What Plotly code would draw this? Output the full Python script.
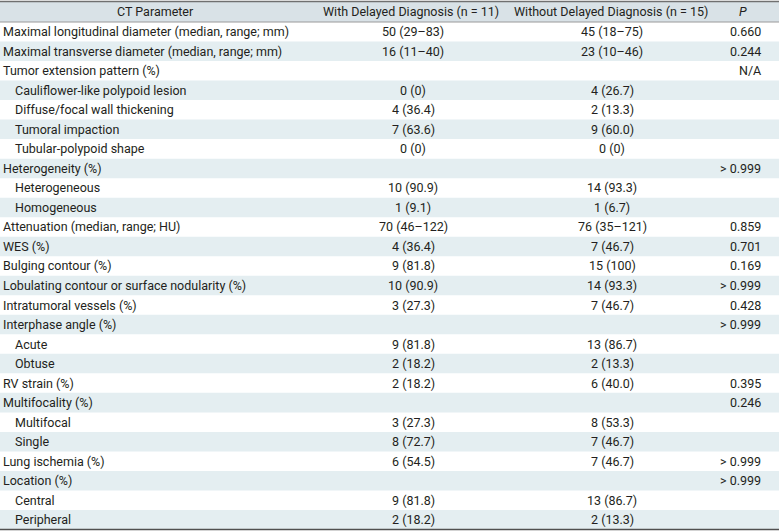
import plotly.graph_objects as go

# ---------------- data ----------------
header_labels = [
    "CT Parameter",
    "With Delayed Diagnosis (n = 11)",
    "Without Delayed Diagnosis (n = 15)",
    "<i>P</i>",
]

parameters = [
    "Maximal longitudinal diameter (median, range; mm)",
    "Maximal transverse diameter (median, range; mm)",
    "Tumor extension pattern (%)",
    "Cauliflower-like polypoid lesion",
    "Diffuse/focal wall thickening",
    "Tumoral impaction",
    "Tubular-polypoid shape",
    "Heterogeneity (%)",
    "Heterogeneous",
    "Homogeneous",
    "Attenuation (median, range; HU)",
    "WES (%)",
    "Bulging contour (%)",
    "Lobulating contour or surface nodularity (%)",
    "Intratumoral vessels (%)",
    "Interphase angle (%)",
    "Acute",
    "Obtuse",
    "RV strain (%)",
    "Multifocality (%)",
    "Multifocal",
    "Single",
    "Lung ischemia (%)",
    "Location (%)",
    "Central",
    "Peripheral",
]

sub_item = [
    False, False, False, True, True, True, True,
    False, True, True,
    False, False, False, False, False,
    False, True, True,
    False, False, True, True,
    False, False, True, True,
]

with_delayed = [
    "50 (29–83)", "16 (11–40)", "", "0 (0)", "4 (36.4)", "7 (63.6)", "0 (0)",
    "", "10 (90.9)", "1 (9.1)",
    "70 (46–122)", "4 (36.4)", "9 (81.8)", "10 (90.9)", "3 (27.3)",
    "", "9 (81.8)", "2 (18.2)",
    "2 (18.2)", "", "3 (27.3)", "8 (72.7)",
    "6 (54.5)", "", "9 (81.8)", "2 (18.2)",
]

without_delayed = [
    "45 (18–75)", "23 (10–46)", "", "4 (26.7)", "2 (13.3)", "9 (60.0)", "0 (0)",
    "", "14 (93.3)", "1 (6.7)",
    "76 (35–121)", "7 (46.7)", "15 (100)", "14 (93.3)", "7 (46.7)",
    "", "13 (86.7)", "2 (13.3)",
    "6 (40.0)", "", "8 (53.3)", "7 (46.7)",
    "7 (46.7)", "", "13 (86.7)", "2 (13.3)",
]

p_values = [
    "0.660", "0.244", "N/A", "", "", "", "",
    "> 0.999", "", "",
    "0.859", "0.701", "0.169", "> 0.999", "0.428",
    "> 0.999", "", "",
    "0.395", "0.246", "", "",
    "> 0.999", "> 0.999", "", "",
]

# ---------------- layout constants ----------------
W, H = 779, 532
TABLE_TOP = 1.5
HEADER_BOTTOM = 22
TABLE_BOTTOM = 529.5
n_rows = len(parameters)
row_h = (TABLE_BOTTOM - HEADER_BOTTOM) / n_rows

X_MAIN = 1
X_SUB = 13
X_COL1_HDR = 155
X_COL2_HDR = 411
X_COL2 = 413
X_COL3_HDR = 611
X_COL3 = 612
X_P_HDR = 743
X_P_RIGHT = 763

FONT = dict(family="Roboto", size=12.5, color="#231f20")
HEADER_FILL = "#d9e2e7"
STRIPE_FILL = "#e4eef1"

fig = go.Figure()
fig.add_trace(go.Scatter(x=[0, W], y=[0, H], mode="markers",
                         marker=dict(opacity=0), hoverinfo="skip",
                         showlegend=False))

shapes = [dict(type="rect", xref="x", yref="y", x0=0, x1=W,
               y0=TABLE_TOP, y1=HEADER_BOTTOM, fillcolor=HEADER_FILL,
               line=dict(width=0), layer="below")]
for i in range(n_rows):
    if i % 2 == 1:
        y0 = HEADER_BOTTOM + i * row_h
        shapes.append(dict(type="rect", xref="x", yref="y", x0=0, x1=W,
                           y0=y0, y1=y0 + row_h, fillcolor=STRIPE_FILL,
                           line=dict(width=0), layer="below"))
shapes.append(dict(type="line", xref="x", yref="y", x0=0, x1=W,
                   y0=TABLE_TOP, y1=TABLE_TOP,
                   line=dict(color="#707070", width=1.5)))
shapes.append(dict(type="line", xref="x", yref="y", x0=0, x1=W,
                   y0=HEADER_BOTTOM, y1=HEADER_BOTTOM,
                   line=dict(color="#9a9a9a", width=1)))
shapes.append(dict(type="line", xref="x", yref="y", x0=0, x1=W,
                   y0=TABLE_BOTTOM, y1=TABLE_BOTTOM,
                   line=dict(color="#505050", width=1.5)))

annotations = []
hy = (TABLE_TOP + HEADER_BOTTOM) / 2
for label, x in zip(header_labels,
                    [X_COL1_HDR, X_COL2_HDR, X_COL3_HDR, X_P_HDR]):
    annotations.append(dict(x=x, y=hy, xref="x", yref="y", text=label,
                            showarrow=False, xanchor="center",
                            yanchor="middle", font=FONT))

for i in range(n_rows):
    yc = HEADER_BOTTOM + (i + 0.5) * row_h
    annotations.append(dict(x=X_SUB if sub_item[i] else X_MAIN, y=yc,
                            xref="x", yref="y", text=parameters[i],
                            showarrow=False, xanchor="left",
                            yanchor="middle", font=FONT))
    for txt, x, anchor in [(with_delayed[i], X_COL2, "center"),
                           (without_delayed[i], X_COL3, "center"),
                           (p_values[i], X_P_RIGHT, "right")]:
        if txt:
            annotations.append(dict(x=x, y=yc, xref="x", yref="y", text=txt,
                                    showarrow=False, xanchor=anchor,
                                    yanchor="middle", font=FONT))

fig.update_layout(
    width=W, height=H,
    margin=dict(l=0, r=0, t=0, b=0),
    paper_bgcolor="white", plot_bgcolor="white",
    xaxis=dict(range=[0, W], visible=False, fixedrange=True),
    yaxis=dict(range=[H, 0], visible=False, fixedrange=True),
    shapes=shapes, annotations=annotations,
    showlegend=False,
)

fig.write_html(
    "out.html",
    config={"displayModeBar": False},
    post_script="document.body.style.margin='0px';document.body.style.overflow='hidden';",
)
